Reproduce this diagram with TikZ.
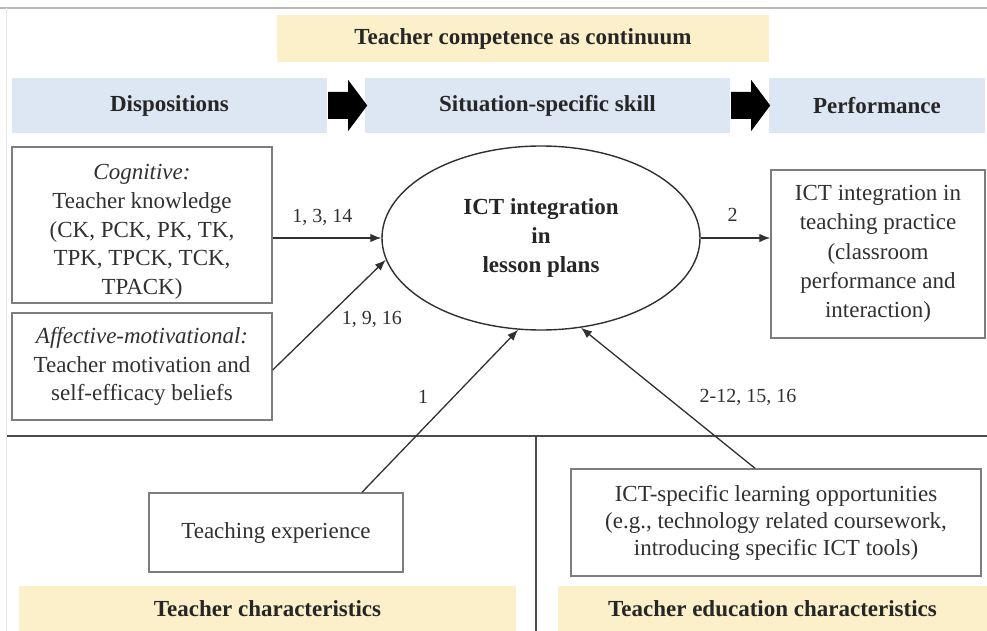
\documentclass[tikz,border=0pt]{standalone}
\usepackage{fontspec}
\setmainfont{Liberation Serif}
\usetikzlibrary{shapes.geometric,arrows.meta}
\definecolor{bandyellow}{RGB}{252,240,202}
\definecolor{bandblue}{RGB}{221,231,243}
\definecolor{boxline}{RGB}{125,125,125}
\definecolor{inkgray}{RGB}{48,48,48}

\begin{document}
\begin{tikzpicture}[x=1pt,y=-1pt,
  font=\fontsize{23}{28.5}\selectfont,
  band/.style={inner sep=0pt,font=\fontsize{23}{28}\selectfont\bfseries,text=black!85},
  box/.style={draw=boxline,line width=1.4pt,inner sep=0pt,align=center,text=inkgray},
  link/.style={draw=inkgray,line width=1.3pt,-{Latex[length=11pt,width=8.5pt]}},
  num/.style={font=\fontsize{20}{24}\selectfont,text=inkgray}]
\useasboundingbox (0,0) rectangle (987,631);
\draw[gray!55,line width=1.5pt] (0,8) -- (987,8);
\draw[gray!18,line width=1pt] (6,8) -- (6,631);

\node[band,fill=bandyellow,minimum width=492pt,minimum height=47pt] (cont) at (523,38.5) {Teacher competence as continuum};
\node[band,fill=bandblue,minimum width=315pt,minimum height=55pt] (disp) at (169.5,105.5) {Dispositions};
\node[band,fill=bandblue,minimum width=365pt,minimum height=55pt] (skill) at (547.5,105.5) {Situation-specific skill};
\node[band,fill=bandblue,minimum width=216pt,minimum height=55pt] (perf) at (877,105.5) {Performance};

\coordinate (A1) at ([shift={+(1,0)}]disp.east);
\fill[black] (A1) ++(0,-13.5) -- ++(20,0) -- ++(0,-12) -- ++(19,25.5) -- ++(-19,25.5) -- ++(0,-12) -- ++(-20,0) -- cycle;
\coordinate (A2) at ([shift={+(1,0)}]skill.east);
\fill[black] (A2) ++(0,-13.5) -- ++(20,0) -- ++(0,-12) -- ++(19,25.5) -- ++(-19,25.5) -- ++(0,-12) -- ++(-20,0) -- cycle;

\node[box,minimum width=260pt,minimum height=156pt] (cog) at (142,225) {};
\node[align=center,inner sep=0pt,text=inkgray,font=\fontsize{23}{28.75}\selectfont] (cogtext) at ([shift={+(0,7)}]cog.center) {\textit{Cognitive:}\\Teacher knowledge\\(CK, PCK, PK, TK,\\TPK, TPCK, TCK,\\TPACK)};
\node[box,minimum width=260pt,minimum height=107pt] (aff) at (142,366.5) {\textit{Affective-motivational:}\\Teacher motivation and\\self-efficacy beliefs};

\node[draw=inkgray,line width=1.4pt,ellipse,inner sep=0pt,minimum width=318pt,minimum height=184pt,align=center,font=\fontsize{23}{29}\selectfont\bfseries,text=black!85] (ict) at (541,238) {ICT integration\\in\\lesson plans};

\node[box,minimum width=214pt,minimum height=168pt,font=\fontsize{23}{29.3}\selectfont] (prac) at (878,254) {ICT integration in\\teaching practice\\(classroom\\performance and\\interaction)};

\draw[black!70,line width=2pt] (7,436) -- (987,436);
\draw[black!70,line width=2pt] (536,436) -- (536,631);

\node[box,minimum width=254pt,minimum height=79pt] (exp) at (276,532.5) {Teaching experience};
\node[box,minimum width=410pt,minimum height=107pt,font=\fontsize{23}{27}\selectfont] (opp) at (776,522.5) {ICT-specific learning opportunities\\(e.g., technology related coursework,\\introducing specific ICT tools)};

\node[band,fill=bandyellow,minimum width=497pt,minimum height=46pt] (tchar) at (267.5,609) {Teacher characteristics};
\node[band,fill=bandyellow,minimum width=429pt,minimum height=46pt] (echar) at (772.5,609) {Teacher education characteristics};

\draw[link] (cog.east |- ict.west) -- (ict.west);
\draw[link] ([shift={+(0,3.5)}]aff.east) -- (ict.188);
\draw[link] ([shift={+(86,0)}]exp.north) -- (ict.256);
\draw[link] ([shift={+(-21,0)}]opp.north) -- (ict.294);
\draw[link] (ict.east) -- (ict.east -| prac.west);

\node[num] (n1) at ([shift={+(-59,-21)}]ict.west) {1, 3, 14};
\node[num] (n2) at ([shift={+(-14,60)}]ict.188) {1, 9, 16};
\node[num] (n3) at (423,397) {1};
\node[num] (n4) at (748,397) {2-12, 15, 16};
\node[num] (n5) at ([shift={+(32,-23)}]ict.east) {2};
\end{tikzpicture}
\end{document}
